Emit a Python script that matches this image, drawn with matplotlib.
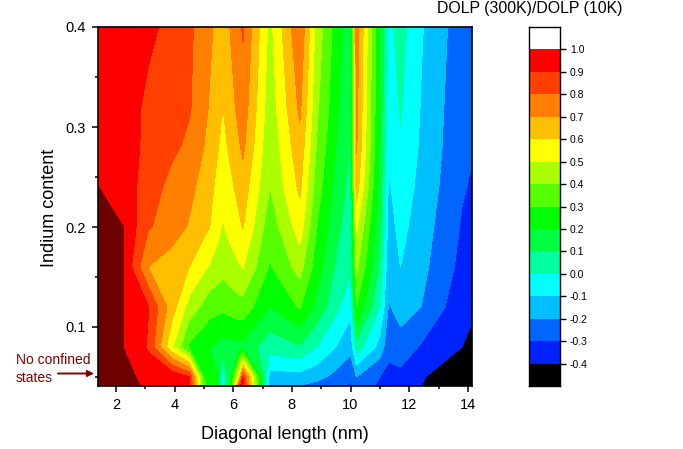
import numpy as np
import matplotlib
matplotlib.use("Agg")
import matplotlib.pyplot as plt

plt.rcParams['font.family'] = ['Liberation Sans', 'DejaVu Sans']

W, H = 683, 449

diagonal = [1.41, 2.24, 3.1, 3.9, 4.5, 5.0, 5.2, 5.48, 5.65, 5.82, 5.9, 6.2, 6.33, 7.25, 8.27, 8.85, 9.5, 10.0, 10.2, 11.0, 11.3, 11.7, 12.4, 13.8, 14.13]
indium = [0.04, 0.05, 0.08, 0.12, 0.16, 0.20, 0.24, 0.28, 0.32, 0.40]

# one list per indium row, left to right along diagonal
z_040 = [1.2, 1.1, 0.96, 0.99, 0.93, 0.34, 0.25, 0.20, -0.095, 0.14, 0.19, 0.88, 0.95, -0.17, -0.21, -0.24, -0.27, -0.32, -0.27, -0.31, -0.34, -0.36, -0.40, -0.56, -0.60]
z_050 = [1.2, 1.05, 0.95, 0.99, 0.90, 0.30, 0.25, 0.20, -0.09, 0.15, 0.19, 0.55, 0.90, -0.14, -0.14, -0.17, -0.23, -0.28, -0.20, -0.30, -0.33, -0.33, -0.385, -0.52, -0.55]
z_080 = [1.2, 1.001, 0.89, 0.52, 0.28, 0.22, 0.20, 0.18, 0.16, 0.165, 0.166, 0.17, 0.17, 0.04, 0.09, 0.0, -0.10, -0.17, 0.06, -0.14, -0.27, -0.24, -0.31, -0.40, -0.43]
z_120 = [1.2, 1.001, 0.905, 0.65, 0.46, 0.375, 0.34, 0.33, 0.32, 0.334, 0.34, 0.36, 0.362, 0.20, 0.31, 0.17, 0.03, -0.07, 0.30, 0.0, -0.21, -0.16, -0.20, -0.37, -0.38]
z_160 = [1.2, 1.001, 0.70, 0.65, 0.60, 0.52, 0.49, 0.45, 0.43, 0.45, 0.46, 0.49, 0.505, 0.29, 0.44, 0.25, 0.09, 0.02, 0.43, 0.08, -0.17, -0.10, -0.17, -0.33, -0.35]
z_200 = [1.1, 1.001, 0.81, 0.75, 0.69, 0.63, 0.60, 0.53, 0.49, 0.52, 0.53, 0.58, 0.605, 0.34, 0.55, 0.30, 0.13, 0.04, 0.52, 0.13, -0.14, -0.07, -0.15, -0.31, -0.33]
z_240 = [1.0, 0.96, 0.85, 0.77, 0.73, 0.66, 0.63, 0.57, 0.53, 0.56, 0.575, 0.635, 0.655, 0.40, 0.62, 0.35, 0.17, 0.07, 0.65, 0.16, -0.115, -0.04, -0.13, -0.29, -0.31]
z_280 = [0.99, 0.96, 0.87, 0.82, 0.78, 0.70, 0.67, 0.605, 0.565, 0.604, 0.62, 0.69, 0.72, 0.42, 0.67, 0.39, 0.20, 0.09, 0.71, 0.18, -0.08, -0.01, -0.115, -0.28, -0.293]
z_320 = [0.985, 0.95, 0.88, 0.84, 0.81, 0.73, 0.69, 0.635, 0.60, 0.64, 0.66, 0.73, 0.76, 0.44, 0.72, 0.42, 0.23, 0.105, 0.73, 0.19, -0.06, 0.01, -0.105, -0.275, -0.29]
z_400 = [0.98, 0.96, 0.92, 0.875, 0.82, 0.75, 0.72, 0.67, 0.64, 0.68, 0.705, 0.78, 0.81, 0.47, 0.79, 0.46, 0.26, 0.13, 0.76, 0.20, -0.03, 0.04, -0.09, -0.26, -0.285]

levels = [-0.4, -0.3, -0.2, -0.1, 0.0, 0.1, 0.2, 0.3, 0.4, 0.5, 0.6, 0.7, 0.8, 0.9, 1.0]
band_colors = ['#000000', '#0022ff', '#0066ff', '#00bfff', '#00ffff', '#00ffa0', '#00ff40',
               '#00ff00', '#55ff00', '#aaff00', '#ffff00', '#ffbf00', '#ff8000', '#ff4000', '#ff0000']
no_state_color = '#6e0000'
over_color = '#ffffff'

Z = np.array([z_040, z_050, z_080, z_120, z_160, z_200, z_240, z_280, z_320, z_400])

fig = plt.figure(figsize=(W / 100, H / 100), dpi=100)


def box(l, t, r, b):
    return [l / W, 1 - b / H, (r - l) / W, (b - t) / H]


ax = fig.add_axes(box(98, 27, 472, 386))
ax.contourf(diagonal, indium, Z, levels=[-2] + levels + [3],
            colors=band_colors + [no_state_color], antialiased=False)
ax.set_xlim(1.39, 14.14)
ax.set_ylim(0.041, 0.4)
ax.set_xticks([2, 4, 6, 8, 10, 12, 14])
ax.set_xticks([3, 5, 7, 9, 11, 13], minor=True)
ax.set_yticks([0.1, 0.2, 0.3, 0.4])
ax.set_yticks([0.05, 0.15, 0.25, 0.35], minor=True)
ax.tick_params(which='major', length=4.5, width=1.1, labelsize=10.5, pad=4)
ax.tick_params(which='minor', length=2.2, width=1.1)
ax.set_xlabel('Diagonal length (nm)', fontsize=13, labelpad=10)
ax.set_ylabel('Indium content', fontsize=13, labelpad=5.5, y=0.496)
for s in ax.spines.values():
    s.set_linewidth(1.2)

cax = fig.add_axes(box(529, 27, 560, 386))
edges = [-0.5] + levels + [1.1]
cax.pcolormesh([0, 1], edges, np.arange(16).reshape(-1, 1),
               cmap=matplotlib.colors.ListedColormap(band_colors + [over_color]), vmin=-0.5, vmax=15.5)
cax.set_xlim(0, 1)
cax.set_ylim(-0.5, 1.1)
cax.set_xticks([])
cax.yaxis.tick_right()
cax.set_yticks(levels)
cax.set_yticklabels([f'{v:.1f}' for v in levels])
cax.tick_params(length=4, width=1, labelsize=7.5, pad=3)
for s in cax.spines.values():
    s.set_linewidth(1.0)

fig.text(529.5 / W, 1 - 8 / H, 'DOLP (300K)/DOLP (10K)', fontsize=11.4, ha='center', va='center')
fig.text(16 / W, 1 - 360 / H, 'No confined', fontsize=10, color='#800000', ha='left', va='center')
fig.text(16 / W, 1 - 378.5 / H, 'states', fontsize=10, color='#800000', ha='left', va='center')
fig.add_artist(matplotlib.patches.FancyArrowPatch(
    (58 / W, 1 - 373.5 / H), (94 / W, 1 - 373.5 / H), transform=fig.transFigure,
    arrowstyle='-|>', mutation_scale=9, color='#800000', lw=1.4, shrinkA=0, shrinkB=0))

fig.savefig('out.png', dpi=100)
